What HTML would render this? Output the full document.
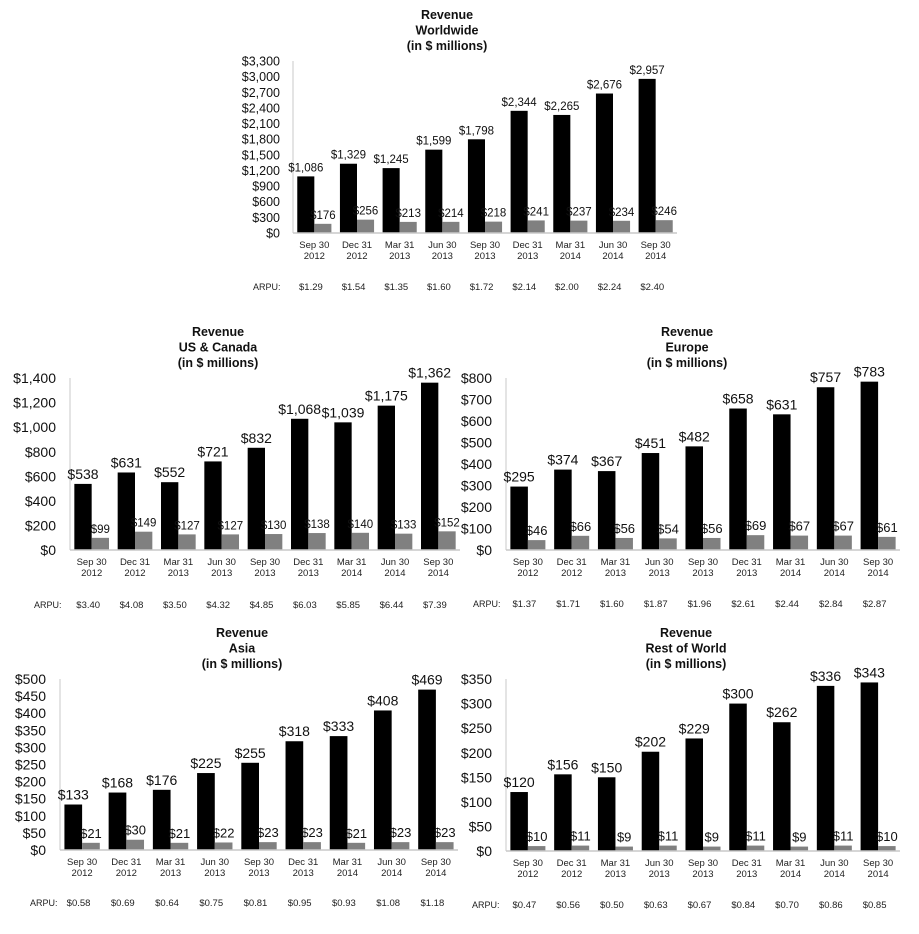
<!DOCTYPE html>
<html><head><meta charset="utf-8">
<style>
html,body{margin:0;padding:0;background:#fff;}
svg{display:block;font-family:"Liberation Sans",Arial,sans-serif;}
</style></head>
<body>
<svg id="c" width="919" height="934" viewBox="0 0 919 934"></svg>
<script>
const categories = ["Sep 30|2012","Dec 31|2012","Mar 31|2013","Jun 30|2013","Sep 30|2013","Dec 31|2013","Mar 31|2014","Jun 30|2014","Sep 30|2014"];

const wwRevenue = [1086,1329,1245,1599,1798,2344,2265,2676,2957];
const wwSecond = [176,256,213,214,218,241,237,234,246];
const wwArpu = ["$1.29","$1.54","$1.35","$1.60","$1.72","$2.14","$2.00","$2.24","$2.40"];
const wwTicks = [0,300,600,900,1200,1500,1800,2100,2400,2700,3000,3300];

const usRevenue = [538,631,552,721,832,1068,1039,1175,1362];
const usSecond = [99,149,127,127,130,138,140,133,152];
const usArpu = ["$3.40","$4.08","$3.50","$4.32","$4.85","$6.03","$5.85","$6.44","$7.39"];
const usTicks = [0,200,400,600,800,1000,1200,1400];

const euRevenue = [295,374,367,451,482,658,631,757,783];
const euSecond = [46,66,56,54,56,69,67,67,61];
const euArpu = ["$1.37","$1.71","$1.60","$1.87","$1.96","$2.61","$2.44","$2.84","$2.87"];
const euTicks = [0,100,200,300,400,500,600,700,800];

const asRevenue = [133,168,176,225,255,318,333,408,469];
const asSecond = [21,30,21,22,23,23,21,23,23];
const asArpu = ["$0.58","$0.69","$0.64","$0.75","$0.81","$0.95","$0.93","$1.08","$1.18"];
const asTicks = [0,50,100,150,200,250,300,350,400,450,500];

const rwRevenue = [120,156,150,202,229,300,262,336,343];
const rwSecond = [10,11,9,11,9,11,9,11,10];
const rwArpu = ["$0.47","$0.56","$0.50","$0.63","$0.67","$0.84","$0.70","$0.86","$0.85"];
const rwTicks = [0,50,100,150,200,250,300,350];

const svg = document.getElementById('c');
const NS = 'http://www.w3.org/2000/svg';
function mk(tag, attrs, parent, text){
  const e = document.createElementNS(NS, tag);
  for (const k in attrs) e.setAttribute(k, attrs[k]);
  if (text !== undefined) e.textContent = text;
  parent.appendChild(e);
  return e;
}
function fmt(v){ return '$' + v.toLocaleString('en-US'); }

function drawChart(o){
  const g = mk('g', {}, svg);
  
  
  const max = o.ticks[o.ticks.length-1];
  const y = v => o.base - (v / max) * (o.base - o.top);
  const cw = (o.x1 - o.x0) / categories.length;
  const bw = cw * 0.4;
  const gap = cw - 2 * bw;
  // title
  o.title.forEach((t, i) => {
    const el = mk('text', {x:o.tx, y:o.ty + i*15.5, 'text-anchor':'middle', 'font-size':12.5, 'font-weight':'bold', fill:'#111'}, g, t);
    
    
  });
  // ticks
  o.ticks.forEach(t => {
    const el = mk('text', {x:o.tickRight, y:y(t) + o.tickFs*0.36, 'text-anchor':'end', 'font-size':o.tickFs, fill:'#111'}, g, fmt(t));
    
    
  });
  // axes
  const ya = mk('line', {x1:o.x0, y1:o.top, x2:o.x0, y2:o.base, stroke:'#c8c8c8', 'stroke-width':1}, g);
  
  
  // bars
  categories.forEach((c, i) => {
    const cx = o.x0 + i * cw + gap / 2;
    const v1 = o.rev[i], v2 = o.sec[i];
    const b1 = mk('rect', {x:cx, y:y(v1), width:bw, height:o.base - y(v1), fill:'#000'}, g);
    
    
    const b2 = mk('rect', {x:cx + bw, y:y(v2), width:bw, height:o.base - y(v2), fill:'#808080'}, g);
    
    
    const l1 = mk('text', {x:cx + bw/2, y:y(v1) - 5, 'text-anchor':'middle', 'font-size':o.valFs, fill:'#111'}, g, fmt(v1));
    
    
    const l2 = mk('text', {x:cx + bw*1.5, y:y(v2) - 5, 'text-anchor':'middle', 'font-size':o.secFs, fill:'#111'}, g, fmt(v2));
    
    
    const parts = c.split('|');
    parts.forEach((p, j) => {
      const t = mk('text', {x:cx + bw, y:o.base + 15 + j*11, 'text-anchor':'middle', 'font-size':9.5, fill:'#222'}, g, p);
      
      
    });
    const a = mk('text', {x:cx + bw*0.8, y:o.arpuY, 'text-anchor':'middle', 'font-size':9.5, fill:'#222'}, g, o.arpu[i]);
    
    
  });
  const xa = mk('line', {x1:o.x0, y1:o.base, x2:o.x1, y2:o.base, stroke:'#c8c8c8', 'stroke-width':1.5}, g);
  
  
  const al = mk('text', {x:o.arpuX, y:o.arpuY, 'font-size':9, fill:'#222'}, g, 'ARPU:');
  
  
}

drawChart({name:'worldwide-chart', title:['Revenue','Worldwide','(in $ millions)'], tx:447, ty:19,
  rev:wwRevenue, sec:wwSecond, arpu:wwArpu, ticks:wwTicks,
  x0:293, x1:677, top:61, base:233, tickRight:280, tickFs:12.5, valFs:11.5, secFs:11.5, arpuX:253, arpuY:290});
drawChart({name:'us-canada-chart', title:['Revenue','US & Canada','(in $ millions)'], tx:218, ty:336,
  rev:usRevenue, sec:usSecond, arpu:usArpu, ticks:usTicks,
  x0:70, x1:460, top:378, base:550, tickRight:56, tickFs:14, valFs:14, secFs:11.5, arpuX:34, arpuY:608});
drawChart({name:'europe-chart', title:['Revenue','Europe','(in $ millions)'], tx:687, ty:336,
  rev:euRevenue, sec:euSecond, arpu:euArpu, ticks:euTicks,
  x0:506, x1:900, top:378, base:550, tickRight:492, tickFs:14, valFs:14, secFs:13, arpuX:473, arpuY:607});
drawChart({name:'asia-chart', title:['Revenue','Asia','(in $ millions)'], tx:242, ty:637,
  rev:asRevenue, sec:asSecond, arpu:asArpu, ticks:asTicks,
  x0:60, x1:458, top:679, base:850, tickRight:46, tickFs:14, valFs:14, secFs:13, arpuX:30, arpuY:906});
drawChart({name:'rest-of-world-chart', title:['Revenue','Rest of World','(in $ millions)'], tx:686, ty:637,
  rev:rwRevenue, sec:rwSecond, arpu:rwArpu, ticks:rwTicks,
  x0:506, x1:900, top:679, base:851, tickRight:492, tickFs:14, valFs:14, secFs:13, arpuX:472, arpuY:908});
</script>
</body></html>
